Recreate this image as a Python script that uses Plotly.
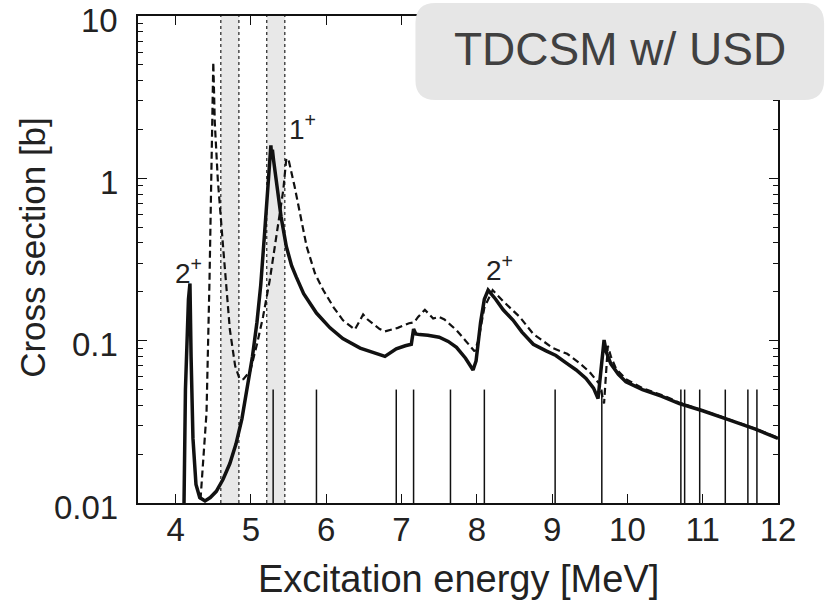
import plotly.graph_objects as go
import math

# ---------------- data ----------------
solid_x = [4.11, 4.13, 4.17, 4.19, 4.205, 4.23, 4.27, 4.32, 4.39, 4.46, 4.54, 4.63, 4.72, 4.80, 4.88,
           4.95, 5.02, 5.08, 5.13, 5.18, 5.22, 5.25, 5.265, 5.275, 5.285, 5.30, 5.33, 5.36, 5.40,
           5.47, 5.54, 5.60, 5.70, 5.87, 6.05, 6.22, 6.45, 6.78, 6.85, 6.93, 7.05, 7.13, 7.16,
           7.19, 7.24, 7.35, 7.50, 7.62, 7.73, 7.85, 7.95, 7.99, 8.05, 8.10, 8.15, 8.25, 8.35,
           8.48, 8.60, 8.75, 8.92, 9.05, 9.19, 9.32, 9.45, 9.55, 9.61, 9.65, 9.69, 9.72, 9.78,
           9.88, 9.98, 10.2, 10.45, 10.69, 11.0, 11.35, 11.7, 12.0]
solid_y = [0.009, 0.05, 0.18, 0.225, 0.08, 0.025, 0.013, 0.0108, 0.0103, 0.0108, 0.0118, 0.014,
           0.0175, 0.023, 0.033, 0.05, 0.08, 0.13, 0.22, 0.45, 0.85, 1.25, 1.6, 1.35, 1.5, 1.3,
           1.0, 0.8, 0.58, 0.38, 0.29, 0.248, 0.195, 0.148, 0.12, 0.103, 0.09, 0.080, 0.084,
           0.089, 0.093, 0.095, 0.118, 0.11, 0.109, 0.108, 0.105, 0.099, 0.091, 0.078, 0.066,
           0.075, 0.13, 0.18, 0.205, 0.18, 0.155, 0.134, 0.113, 0.095, 0.0865, 0.081, 0.0727,
           0.066, 0.0586, 0.051, 0.044, 0.07, 0.101, 0.085, 0.072, 0.062, 0.0558, 0.05, 0.0455,
           0.041, 0.037, 0.0325, 0.0285, 0.025]

dashed_x = [4.32, 4.36, 4.41, 4.45, 4.48, 4.50, 4.52, 4.56, 4.63, 4.72, 4.79, 4.85, 4.90, 4.99,
            5.08, 5.16, 5.25, 5.34, 5.43, 5.47, 5.50, 5.58, 5.66, 5.74, 5.85, 5.96, 6.10, 6.22,
            6.38, 6.49, 6.55, 6.62, 6.71, 6.78, 6.95, 7.10, 7.17, 7.22, 7.31, 7.42, 7.50, 7.57,
            7.73, 7.85, 7.97, 8.02, 8.10, 8.21, 8.35, 8.57, 8.75, 9.01, 9.20, 9.36, 9.50, 9.63,
            9.69, 9.74, 9.78, 9.85, 9.98, 10.2, 10.5, 10.69, 11.0, 11.35, 11.7, 12.0]
dashed_y = [0.009, 0.016, 0.036, 0.24, 1.5, 5.2, 2.2, 0.98, 0.38, 0.117, 0.07, 0.058, 0.058,
            0.065, 0.095, 0.14, 0.236, 0.44, 0.85, 1.33, 1.3, 0.89, 0.58, 0.38, 0.26, 0.205,
            0.16, 0.134, 0.117, 0.145, 0.135, 0.127, 0.118, 0.114, 0.12, 0.128, 0.13, 0.14,
            0.155, 0.137, 0.14, 0.135, 0.116, 0.1, 0.086, 0.1, 0.16, 0.205, 0.175, 0.14, 0.11,
            0.09, 0.083, 0.073, 0.064, 0.054, 0.041, 0.093, 0.08, 0.067, 0.058, 0.051, 0.0455,
            0.0415, 0.0372, 0.0327, 0.0287, 0.0252]

level_energies = [5.295, 5.87, 6.93, 7.16, 7.65, 8.10, 9.04, 9.66, 10.71, 10.76, 10.96, 11.30, 11.60, 11.72]
level_height = 0.05

bands = [(4.60, 4.84), (5.21, 5.45)]

labels = [("2<sup>+</sup>", 4.17, 0.27), ("1<sup>+</sup>", 5.69, 2.07), ("2<sup>+</sup>", 8.30, 0.28)]

x_ticks = [4, 5, 6, 7, 8, 9, 10, 11, 12]
y_ticks = [0.01, 0.1, 1, 10]
y_ticklabels = ["0.01", "0.1", "1", "10"]
y_minor = [m * 10 ** e for e in (-2, -1, 0) for m in range(2, 10)]

title_text = "TDCSM w/ USD"
x_title = "Excitation energy [MeV]"
y_title = "Cross section [b]"

# ---------------- figure ----------------
FONT = "Liberation Sans, Arial, sans-serif"
fig = go.Figure()

# level sticks
sx, sy = [], []
for e in level_energies:
    sx += [e, e, None]
    sy += [0.01, level_height, None]
fig.add_trace(go.Scatter(x=sx, y=sy, mode="lines", line=dict(color="#111", width=1.5),
                         hoverinfo="skip", showlegend=False))

fig.add_trace(go.Scatter(x=dashed_x, y=dashed_y, mode="lines",
                         line=dict(color="#111", width=2.2, dash="7px,4px"), showlegend=False))
fig.add_trace(go.Scatter(x=solid_x, y=solid_y, mode="lines",
                         line=dict(color="#111", width=3.5), showlegend=False))

shapes = []
for (a, b) in bands:
    shapes.append(dict(type="rect", xref="x", yref="paper", x0=a, x1=b, y0=0, y1=1,
                       fillcolor="#e8e8e8", line=dict(width=0), layer="below"))
    for v in (a, b):
        shapes.append(dict(type="line", xref="x", yref="paper", x0=v, x1=v, y0=0, y1=1,
                           line=dict(color="#222", width=1.2, dash="dot"), layer="below"))

# rounded label box (paper coords)
x0, x1, y0, y1 = 0.4335, 1.072, 0.8275, 1.0267
rx, ry = 20 / 639, 20 / 487
path = (f"M {x0+rx},{y0} L {x1-rx},{y0} Q {x1},{y0} {x1},{y0+ry} L {x1},{y1-ry} "
        f"Q {x1},{y1} {x1-rx},{y1} L {x0+rx},{y1} Q {x0},{y1} {x0},{y1-ry} "
        f"L {x0},{y0+ry} Q {x0},{y0} {x0+rx},{y0} Z")
shapes.append(dict(type="path", xref="paper", yref="paper", path=path,
                   fillcolor="#e6e6e6", line=dict(width=0), layer="above"))

annotations = []
for (t, x, y) in labels:
    annotations.append(dict(text=t, x=x, y=math.log10(y), xref="x", yref="y",
                            xanchor="center", yanchor="middle",
                            showarrow=False, font=dict(family=FONT, size=28, color="#222")))
# y tick labels (as annotations, right-aligned next to the axis)
for v, t in zip(y_ticks, y_ticklabels):
    annotations.append(dict(text=t, x=0, y=math.log10(v), xref="paper", yref="y",
                            xanchor="right", yanchor="middle", xshift=-18, yshift=-4,
                            showarrow=False, font=dict(family=FONT, size=33, color="#222")))
annotations.append(dict(text=title_text, x=(x0 + x1) / 2, y=(y0 + y1) / 2 + 0.005,
                        xref="paper", yref="paper", xanchor="center", yanchor="middle",
                        showarrow=False, font=dict(family=FONT, size=46, color="#404040")))
annotations.append(dict(text=x_title, x=0.5, y=-0.156, xref="paper", yref="paper",
                        xanchor="center", yanchor="middle", showarrow=False,
                        font=dict(family=FONT, size=38, color="#222")))
annotations.append(dict(text=y_title, x=-0.164, y=0.524, xref="paper", yref="paper",
                        xanchor="center", yanchor="middle", textangle=-90, showarrow=False,
                        font=dict(family=FONT, size=35, color="#222")))

fig.update_layout(
    width=825, height=602,
    margin=dict(l=138, r=47, t=16, b=99, autoexpand=False),
    paper_bgcolor="white", plot_bgcolor="white",
    shapes=shapes, annotations=annotations,
    font=dict(family=FONT, color="#222"),
    xaxis=dict(range=[3.5, 12], tickvals=x_ticks, ticks="inside", ticklen=9, tickwidth=1.3,
               tickcolor="#111", showline=True, linecolor="#111", linewidth=1.5, mirror="ticks",
               showgrid=False, zeroline=False, tickfont=dict(size=33), ticklabelstandoff=-3,
               ticklabeloverflow="allow", automargin=False),
    yaxis=dict(type="log", range=[-2, 1.0004], tickvals=y_ticks, showticklabels=False,
               ticks="inside", ticklen=9, tickwidth=1.3, tickcolor="#111",
               showline=True, linecolor="#111", linewidth=1.5, mirror="ticks",
               showgrid=False, zeroline=False, automargin=False,
               minor=dict(tickvals=y_minor, ticks="inside", ticklen=5, tickcolor="#111",
                          tickwidth=1.2, showgrid=False)),
)

fig.write_html("out.html")
